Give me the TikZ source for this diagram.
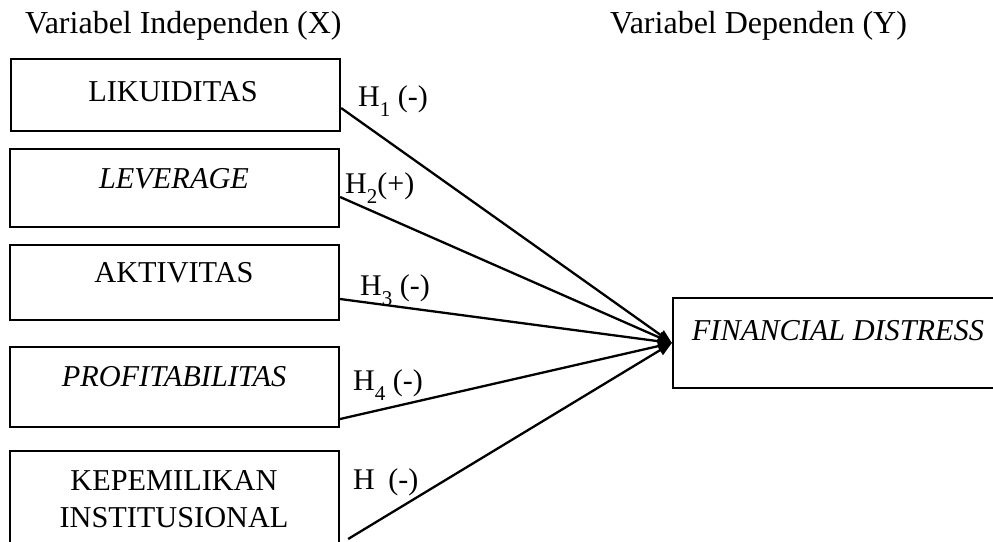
\documentclass[tikz,border=0pt]{standalone}
\usepackage{fontspec}
\setmainfont{Liberation Serif}
\usetikzlibrary{arrows.meta}
\newcommand{\hsub}[1]{\raisebox{-0.32em}{\fontsize{21}{21}\selectfont #1}}
\begin{document}
\begin{tikzpicture}[x=1pt,y=-1pt,
  box/.style={draw,line width=2.2pt,minimum width=329pt,inner sep=0pt},
  txt/.style={inner sep=0pt,font=\fontsize{30.3}{37}\selectfont,align=center},
  title/.style={inner sep=0pt,font=\fontsize{32}{38}\selectfont},
  hyp/.style={inner sep=0pt,font=\fontsize{30}{37}\selectfont},
  conn/.style={line width=2.3pt,-{Triangle[length=14pt,width=11pt]}}]
\useasboundingbox (0,0) rectangle (993,541);
% titles
\node[title,anchor=west] (tx) at (25,26) {Variabel Independen (X)};
\node[title,anchor=west] (ty) at (610,26) {Variabel Dependen (Y)};
% boxes
\node[box,minimum height=72pt] (b1) at (175.5,95) {};
\node[box,minimum height=78pt] (b2) at (174.5,188) {};
\node[box,minimum height=75pt] (b3) at (174.5,282.5) {};
\node[box,minimum height=80pt] (b4) at (174.5,387) {};
\node[box,minimum height=110pt] (b5) at (174.5,506) {};
\node[draw,line width=2.2pt,minimum width=340pt,minimum height=90pt,inner sep=0pt] (fd) at (843,343) {};
% box texts
\node[txt] (t1) at (173,92) {LIKUIDITAS};
\node[txt] (t2) at (174,179) {\textit{LEVERAGE}};
\node[txt] (t3) at (174,273) {AKTIVITAS};
\node[txt] (t4) at (174,377) {\textit{PROFITABILITAS}};
\node[txt] (t5) at (174,499) {KEPEMILIKAN\\INSTITUSIONAL};
\node[txt] (t6) at (838,331) {\textit{FINANCIAL DISTRESS}};
% connectors
\draw[conn] ([yshift=-13pt]b1.east) -- (fd.west);
\draw[conn] ([yshift=-9pt]b2.east) -- (fd.west);
\draw[conn] ([yshift=-16.5pt]b3.east) -- (fd.west);
\draw[conn] ([yshift=-32pt]b4.east) -- (fd.west);
\draw[conn] ([yshift=-33pt,xshift=8pt]b5.east) -- (fd.west);
% hypothesis labels
\node[hyp,anchor=west] (h1) at (358,101) {H\hsub{1} (-)};
\node[hyp,anchor=west] (h2) at (345,188) {H\hsub{2}(+)};
\node[hyp,anchor=west] (h3) at (360,290) {H\hsub{3} (-)};
\node[hyp,anchor=west] (h4) at (353,385) {H\hsub{4} (-)};
\node[hyp,anchor=west] (h5) at (353,482) {H\kern0.45em(-)};
\end{tikzpicture}
\end{document}
